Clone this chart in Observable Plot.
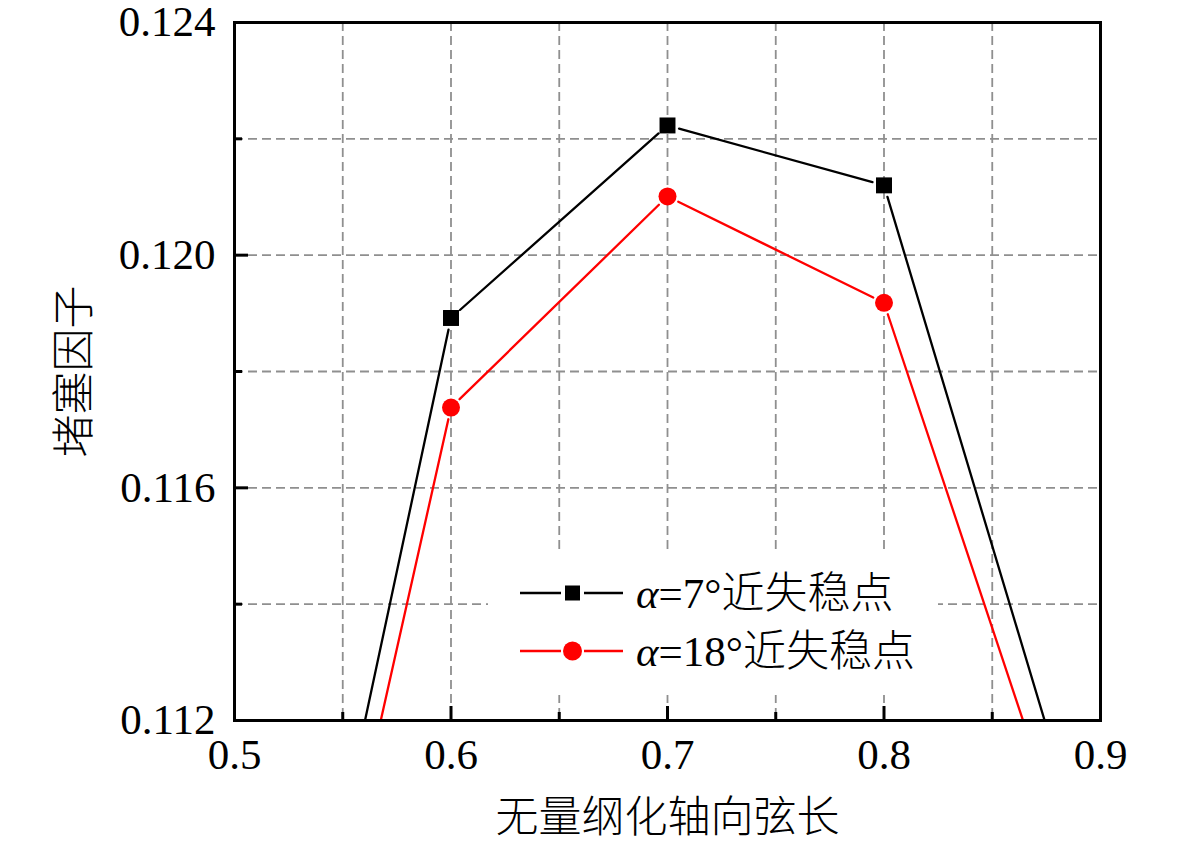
<!DOCTYPE html>
<html>
<head>
<meta charset="utf-8">
<script src="https://cdn.jsdelivr.net/npm/d3@7"></script>
<script src="https://cdn.jsdelivr.net/npm/@observablehq/plot@0.6"></script>
<style>
  html, body { margin: 0; padding: 0; background: #fff; }
  #chart { width: 1181px; height: 842px; }
</style>
</head>
<body>
<div id="chart"></div>
<script>
// ---- data ----
const xValues = [0.5, 0.6, 0.7, 0.8, 0.9];
const seriesNames = ["α=7°近失稳点", "α=18°近失稳点"];
const alpha7Values = [0.1015, 0.11892, 0.12223, 0.1212, 0.1088];
const alpha18Values = [0.1008, 0.11738, 0.12101, 0.11918, 0.1080];
const xTickLabels = [0.5, 0.6, 0.7, 0.8, 0.9];
const yTickLabels = [0.112, 0.116, 0.120, 0.124];
const xGridValues = [0.55, 0.6, 0.65, 0.7, 0.75, 0.8, 0.85];
const yGridValues = [0.114, 0.116, 0.118, 0.120, 0.122];
const xMajorTicks = [0.6, 0.7, 0.8];
const xMinorTicks = [0.55, 0.65, 0.75, 0.85];
const yMajorTicks = [0.116, 0.120];
const yMinorTicks = [0.114, 0.118, 0.122];
const xTitle = "无量纲化轴向弦长";
const yTitle = "堵塞因子";

// ---- tables built from the arrays ----
const seriesValues = [alpha7Values, alpha18Values];
const points = [];
const segments = [];
seriesNames.forEach((name, s) => {
  const vals = seriesValues[s];
  xValues.forEach((x, i) => points.push({series: name, x, y: vals[i]}));
  for (let i = 0; i < xValues.length - 1; i++) {
    segments.push({series: name, x1: xValues[i], y1: vals[i], x2: xValues[i + 1], y2: vals[i + 1]});
  }
});

// ---- layout ----
const W = 1181, H = 842;
const mL = 234, mR = 81, mT = 22, mB = 122;
const fw = W - mL - mR, fh = H - mT - mB;
const FONT = "'Liberation Serif', 'Noto Sans CJK SC', serif";
const CJK = "'Noto Sans CJK SC', sans-serif";
const gridStyle = {stroke: "#8f8f8f", strokeOpacity: 1, strokeWidth: 1.8, strokeDasharray: "9,5"};

const plot = Plot.plot({
  width: W,
  height: H,
  marginLeft: mL,
  marginRight: mR,
  marginTop: mT,
  marginBottom: mB,
  style: {fontFamily: FONT, fontSize: "43px", background: "white", color: "black", overflow: "visible"},
  x: {domain: [0.5, 0.9]},
  y: {domain: [0.112, 0.124]},
  color: {domain: seriesNames, range: ["black", "#ff0000"]},
  symbol: {domain: seriesNames, range: ["square", "circle"]},
  marks: [
    Plot.gridX({ticks: xGridValues, ...gridStyle}),
    Plot.gridY({ticks: yGridValues, ...gridStyle}),
    Plot.arrow(segments, {
      x1: "x1", y1: "y1", x2: "x2", y2: "y2",
      stroke: "series", strokeWidth: 2.3, headLength: 0, insetStart: 12, insetEnd: 12, clip: true
    }),
    Plot.dot(points, {x: "x", y: "y", symbol: "series", fill: "series", stroke: "none", r: 9, clip: true}),
    Plot.tickX(xMajorTicks, {x: d => d, insetTop: fh - 14, strokeWidth: 3, stroke: "black"}),
    Plot.tickX(xMinorTicks, {x: d => d, insetTop: fh - 8, strokeWidth: 3, stroke: "black"}),
    Plot.tickY(yMajorTicks, {y: d => d, insetRight: fw - 14, strokeWidth: 3, stroke: "black"}),
    Plot.tickY(yMinorTicks, {y: d => d, insetRight: fw - 8, strokeWidth: 3, stroke: "black"}),
    Plot.frame({stroke: "black", strokeWidth: 3}),
    Plot.axisX({ticks: xTickLabels, tickSize: 0, tickPadding: 18, tickFormat: d3.format(".1f"), label: null, fontSize: 43}),
    Plot.axisY({ticks: yTickLabels, tickSize: 0, tickPadding: 19, tickFormat: d3.format(".3f"), label: null, fontSize: 43}),
    Plot.text([xTitle], {text: d => d, frameAnchor: "bottom", lineAnchor: "middle", textAnchor: "middle", dy: 98, fontSize: 43, fontWeight: 300, fontFamily: CJK}),
    Plot.text([yTitle], {text: d => d, frameAnchor: "left", lineAnchor: "middle", textAnchor: "middle", dx: -159, rotate: -90, fontSize: 43, fontWeight: 300, fontFamily: CJK})
  ]
});

// ---- legend (inside the frame, white box over the grid) ----
const svg = d3.select(plot);
const lg = svg.append("g").attr("class", "legend").attr("text-anchor", "start");
lg.append("rect").attr("x", 488).attr("y", 553).attr("width", 450).attr("height", 142).attr("fill", "white");
const legendColors = ["black", "#ff0000"];
const rowY = [593, 651];
seriesNames.forEach((name, i) => {
  const y = rowY[i];
  const c = legendColors[i];
  lg.append("line").attr("x1", 520).attr("x2", 561).attr("y1", y).attr("y2", y).attr("stroke", c).attr("stroke-width", 2.3);
  lg.append("line").attr("x1", 584).attr("x2", 623).attr("y1", y).attr("y2", y).attr("stroke", c).attr("stroke-width", 2.3);
  if (i === 0) {
    lg.append("rect").attr("x", 572.5 - 7.5).attr("y", y - 7.5).attr("width", 15).attr("height", 15).attr("fill", c);
  } else {
    lg.append("circle").attr("cx", 572.5).attr("cy", y).attr("r", 9.5).attr("fill", c);
  }
  const cjkStart = name.search(/[\u4e00-\u9fff]/);
  const t = lg.append("text").attr("x", 636).attr("y", y + 15)
    .attr("text-anchor", "start")
    .attr("font-family", FONT).attr("font-size", 43).attr("fill", "black");
  t.append("tspan").attr("font-style", "italic").attr("font-family", "'Liberation Serif', serif").text(name.slice(0, 1));
  t.append("tspan").attr("font-family", "'Liberation Serif', serif").text(name.slice(1, cjkStart));
  t.append("tspan").attr("font-family", CJK).attr("font-weight", 300).text(name.slice(cjkStart));
});

document.getElementById("chart").appendChild(plot);
</script>
</body>
</html>
